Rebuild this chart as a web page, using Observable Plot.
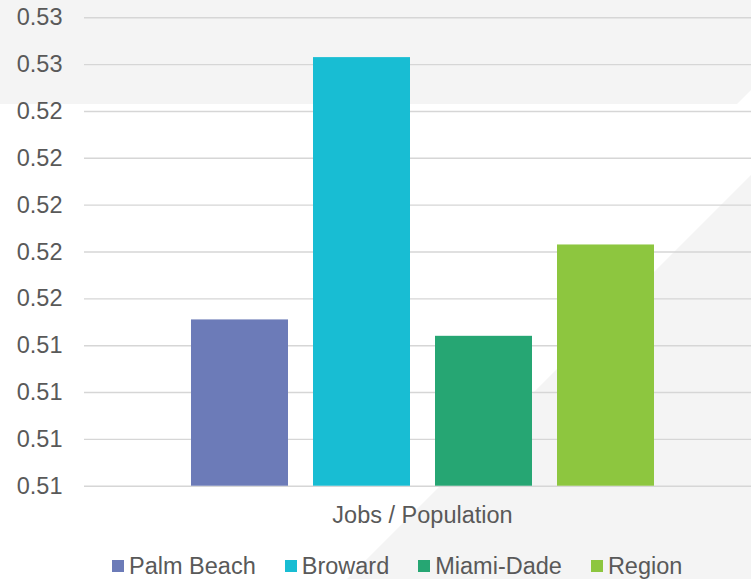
<!DOCTYPE html>
<html>
<head>
<meta charset="utf-8">
<script src="https://cdn.jsdelivr.net/npm/d3@7"></script>
<script src="https://cdn.jsdelivr.net/npm/@observablehq/plot@0.6"></script>
<style>
  html, body { margin: 0; padding: 0; background: #fff; }
  #wrap { position: relative; width: 751px; height: 579px; overflow: hidden; font-family: "Liberation Sans", Arial, sans-serif; }
  #bg { position: absolute; left: 0; top: 0; z-index: 0; }
  #chart { position: absolute; left: 0; top: 0; z-index: 1; }
  #legend { position: absolute; left: 112px; top: 553px; height: 26px; z-index: 1; display: flex; align-items: center; font-size: 23.5px; color: #595959; white-space: nowrap; }
  .item { display: flex; align-items: center; margin-right: 29px; }
  .sw { width: 12px; height: 12px; margin-right: 5px; }
</style>
</head>
<body>
<div id="wrap">
  <svg id="bg" width="751" height="579">
    <polygon points="0,0 751,0 751,90 737,104 0,104" fill="#f4f4f4"></polygon>
    <polygon points="751,175 751,579 347,579" fill="#f4f4f4"></polygon>
  </svg>
  <div id="chart"></div>
  <div id="legend"></div>
</div>
<script>
const categories = ["Jobs / Population"];
const series = ["Palm Beach", "Broward", "Miami-Dade", "Region"];
const values = [0.5151, 0.5263, 0.5144, 0.5183];
const colors = ["#6C7BB8", "#18BDD3", "#26A673", "#8DC63F"];
const yTicks = [0.508, 0.510, 0.512, 0.514, 0.516, 0.518, 0.520, 0.522, 0.524, 0.526, 0.528];

const data = series.map((s, i) => ({category: categories[0], series: s, value: values[i]}));
const yMin = yTicks[0];

const chart = Plot.plot({
  width: 751,
  height: 540,
  marginLeft: 84,
  marginRight: 0,
  marginTop: 17.3,
  marginBottom: 54.3,
  style: {background: "transparent", fontFamily: "'Liberation Sans', Arial, sans-serif", fontSize: "23.5px", color: "#595959"},
  x: {domain: series, range: [190, 655], paddingInner: 0.205, paddingOuter: 0, axis: null},
  y: {domain: [yTicks[0], yTicks[yTicks.length - 1]], axis: null},
  color: {domain: series, range: colors},
  marks: [
    Plot.ruleY(yTicks, {stroke: "#d6d6d6", strokeWidth: 1.4}),
    Plot.axisY(yTicks, {tickSize: 0, tickPadding: 22, tickFormat: d3.format(".2f"), label: null, fontSize: 23.5, fill: "#595959"}),
    Plot.barY(data, {x: "series", y1: () => yMin, y2: "value", fill: "series"}),
    Plot.text(categories, {text: d => d, frameAnchor: "bottom", dx: 4.5, dy: 37, fontSize: 23.5, fill: "#595959"})
  ]
});
document.getElementById("chart").appendChild(chart);

const legend = document.getElementById("legend");
series.forEach((s, i) => {
  const item = document.createElement("div");
  item.className = "item";
  const sw = document.createElement("div");
  sw.className = "sw";
  sw.style.background = colors[i];
  const t = document.createElement("span");
  t.textContent = s;
  item.appendChild(sw);
  item.appendChild(t);
  legend.appendChild(item);
});
</script>
</body>
</html>
